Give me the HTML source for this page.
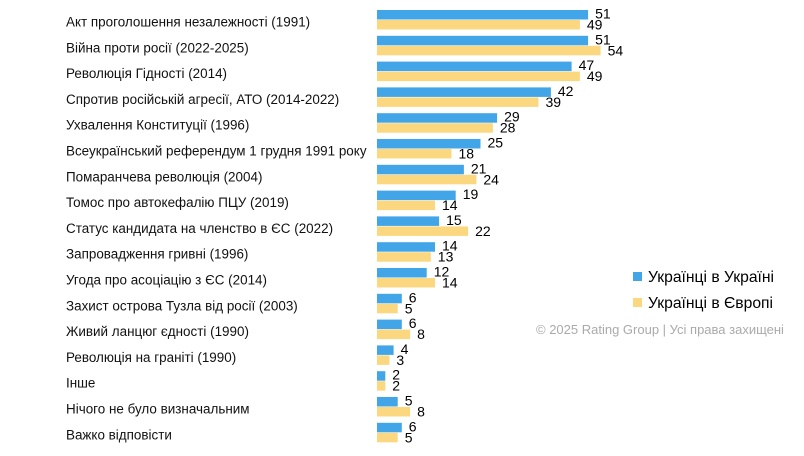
<!DOCTYPE html>
<html><head><meta charset="utf-8"><style>
html,body{margin:0;padding:0;background:#fff;}
svg{display:block;font-family:"Liberation Sans",sans-serif;}
.b{fill:#42A5E8}.y{fill:#FBD87F}.v{font-size:14px;fill:#000}.l{font-size:14px;fill:#111}
</style></head><body>
<svg width="804" height="456" viewBox="0 0 804 456" xmlns="http://www.w3.org/2000/svg">
<g transform="translate(0,10)"><rect class="b" x="377" y="0" width="211.1" height="9.5"/><rect class="y" x="377" y="10" width="202.9" height="9.5"/><text class="v" x="595.1" y="8.5">51</text><text class="v" x="586.9" y="19.5">49</text><text class="l" transform="translate(66,16.5) scale(0.96,1)">Акт проголошення незалежності (1991)</text></g>
<g transform="translate(0,35.8)"><rect class="b" x="377" y="0" width="211.1" height="9.5"/><rect class="y" x="377" y="10" width="223.6" height="9.5"/><text class="v" x="595.1" y="8.5">51</text><text class="v" x="607.6" y="19.5">54</text><text class="l" transform="translate(66,16.5) scale(0.96,1)">Війна проти росії (2022-2025)</text></g>
<g transform="translate(0,61.6)"><rect class="b" x="377" y="0" width="194.6" height="9.5"/><rect class="y" x="377" y="10" width="202.9" height="9.5"/><text class="v" x="578.6" y="8.5">47</text><text class="v" x="586.9" y="19.5">49</text><text class="l" transform="translate(66,16.5) scale(0.96,1)">Революція Гідності (2014)</text></g>
<g transform="translate(0,87.4)"><rect class="b" x="377" y="0" width="173.9" height="9.5"/><rect class="y" x="377" y="10" width="161.5" height="9.5"/><text class="v" x="557.9" y="8.5">42</text><text class="v" x="545.5" y="19.5">39</text><text class="l" transform="translate(66,16.5) scale(0.96,1)">Спротив російській агресії, АТО (2014-2022)</text></g>
<g transform="translate(0,113.2)"><rect class="b" x="377" y="0" width="120.1" height="9.5"/><rect class="y" x="377" y="10" width="115.9" height="9.5"/><text class="v" x="504.1" y="8.5">29</text><text class="v" x="499.9" y="19.5">28</text><text class="l" transform="translate(66,16.5) scale(0.96,1)">Ухвалення Конституції (1996)</text></g>
<g transform="translate(0,139)"><rect class="b" x="377" y="0" width="103.5" height="9.5"/><rect class="y" x="377" y="10" width="74.5" height="9.5"/><text class="v" x="487.5" y="8.5">25</text><text class="v" x="458.5" y="19.5">18</text><text class="l" transform="translate(66,16.5) scale(0.96,1)">Всеукраїнський референдум 1 грудня 1991 року</text></g>
<g transform="translate(0,164.8)"><rect class="b" x="377" y="0" width="86.9" height="9.5"/><rect class="y" x="377" y="10" width="99.4" height="9.5"/><text class="v" x="470.9" y="8.5">21</text><text class="v" x="483.4" y="19.5">24</text><text class="l" transform="translate(66,16.5) scale(0.96,1)">Помаранчева революція (2004)</text></g>
<g transform="translate(0,190.6)"><rect class="b" x="377" y="0" width="78.7" height="9.5"/><rect class="y" x="377" y="10" width="58" height="9.5"/><text class="v" x="462.7" y="8.5">19</text><text class="v" x="442" y="19.5">14</text><text class="l" transform="translate(66,16.5) scale(0.96,1)">Томос про автокефалію ПЦУ (2019)</text></g>
<g transform="translate(0,216.4)"><rect class="b" x="377" y="0" width="62.1" height="9.5"/><rect class="y" x="377" y="10" width="91.1" height="9.5"/><text class="v" x="446.1" y="8.5">15</text><text class="v" x="475.1" y="19.5">22</text><text class="l" transform="translate(66,16.5) scale(0.96,1)">Статус кандидата на членство в ЄС (2022)</text></g>
<g transform="translate(0,242.2)"><rect class="b" x="377" y="0" width="58" height="9.5"/><rect class="y" x="377" y="10" width="53.8" height="9.5"/><text class="v" x="442" y="8.5">14</text><text class="v" x="437.8" y="19.5">13</text><text class="l" transform="translate(66,16.5) scale(0.96,1)">Запровадження гривні (1996)</text></g>
<g transform="translate(0,268)"><rect class="b" x="377" y="0" width="49.7" height="9.5"/><rect class="y" x="377" y="10" width="58" height="9.5"/><text class="v" x="433.7" y="8.5">12</text><text class="v" x="442" y="19.5">14</text><text class="l" transform="translate(66,16.5) scale(0.96,1)">Угода про асоціацію з ЄС (2014)</text></g>
<g transform="translate(0,293.8)"><rect class="b" x="377" y="0" width="24.8" height="9.5"/><rect class="y" x="377" y="10" width="20.7" height="9.5"/><text class="v" x="408.8" y="8.5">6</text><text class="v" x="404.7" y="19.5">5</text><text class="l" transform="translate(66,16.5) scale(0.96,1)">Захист острова Тузла від росії (2003)</text></g>
<g transform="translate(0,319.6)"><rect class="b" x="377" y="0" width="24.8" height="9.5"/><rect class="y" x="377" y="10" width="33.1" height="9.5"/><text class="v" x="408.8" y="8.5">6</text><text class="v" x="417.1" y="19.5">8</text><text class="l" transform="translate(66,16.5) scale(0.96,1)">Живий ланцюг єдності (1990)</text></g>
<g transform="translate(0,345.4)"><rect class="b" x="377" y="0" width="16.6" height="9.5"/><rect class="y" x="377" y="10" width="12.4" height="9.5"/><text class="v" x="400.6" y="8.5">4</text><text class="v" x="396.4" y="19.5">3</text><text class="l" transform="translate(66,16.5) scale(0.96,1)">Революція на граніті (1990)</text></g>
<g transform="translate(0,371.2)"><rect class="b" x="377" y="0" width="8.3" height="9.5"/><rect class="y" x="377" y="10" width="8.3" height="9.5"/><text class="v" x="392.3" y="8.5">2</text><text class="v" x="392.3" y="19.5">2</text><text class="l" transform="translate(66,16.5) scale(0.96,1)">Інше</text></g>
<g transform="translate(0,397)"><rect class="b" x="377" y="0" width="20.7" height="9.5"/><rect class="y" x="377" y="10" width="33.1" height="9.5"/><text class="v" x="404.7" y="8.5">5</text><text class="v" x="417.1" y="19.5">8</text><text class="l" transform="translate(66,16.5) scale(0.96,1)">Нічого не було визначальним</text></g>
<g transform="translate(0,422.8)"><rect class="b" x="377" y="0" width="24.8" height="9.5"/><rect class="y" x="377" y="10" width="20.7" height="9.5"/><text class="v" x="408.8" y="8.5">6</text><text class="v" x="404.7" y="19.5">5</text><text class="l" transform="translate(66,16.5) scale(0.96,1)">Важко відповісти</text></g>
<rect class="b" x="633" y="272" width="9" height="9"/>
<text transform="translate(648,282) scale(0.98,1)" font-size="16" fill="#000">Українці в Україні</text>
<rect class="y" x="633" y="298" width="9" height="9"/>
<text transform="translate(648,308) scale(0.98,1)" font-size="16" fill="#000">Українці в Європі</text>
<text transform="translate(536,334)" font-size="13" fill="#aaa">© 2025 Rating Group | Усі права захищені</text>
</svg>
</body></html>
